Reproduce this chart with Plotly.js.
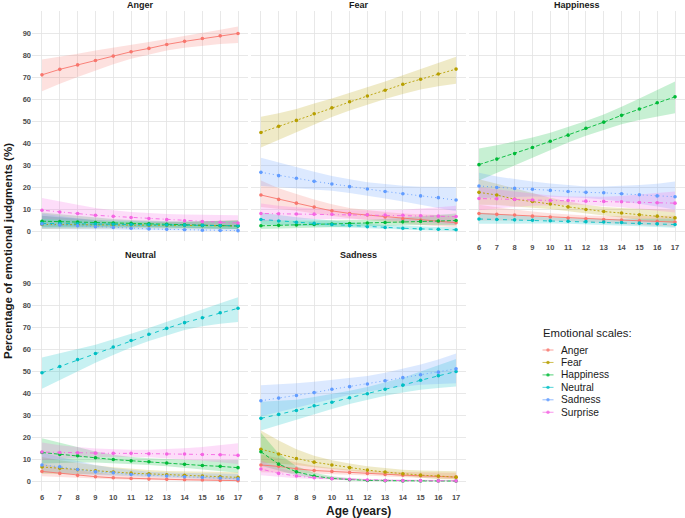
<!DOCTYPE html>
<html>
<head>
<meta charset="utf-8">
<script src="https://cdn.plot.ly/plotly-3.0.1.min.js"></script>
<style>html,body{margin:0;padding:0;background:#fff;}#chart{width:685px;height:518px;}</style>
</head>
<body>
<div id="chart"></div>
<script>
// ---------- data ----------
const ages = [6, 7, 8, 9, 10, 11, 12, 13, 14, 15, 16, 17];
const emotions = ['Anger', 'Fear', 'Happiness', 'Neutral', 'Sadness', 'Surprise'];
const panelNames = ['Anger', 'Fear', 'Happiness', 'Neutral', 'Sadness'];
const yTicks = [0, 10, 20, 30, 40, 50, 60, 70, 80, 90];
const legendTitle = 'Emotional scales:';
const xTitle = 'Age (years)';
const yTitle = 'Percentage of emotional judgments (%)';

// Panel "Anger"
const meanAnger = {
  Anger:     [71, 73.5, 75.5, 77.5, 79.5, 81.5, 83, 84.8, 86.2, 87.5, 88.7, 89.8],
  Fear:      [3, 3, 3, 2.9, 2.8, 2.8, 2.7, 2.6, 2.6, 2.5, 2.5, 2.4],
  Happiness: [4.5, 4.3, 4.1, 3.9, 3.7, 3.5, 3.3, 3.1, 2.9, 2.7, 2.5, 2.3],
  Neutral:   [3.5, 3.4, 3.3, 3.2, 3.1, 3, 2.9, 2.8, 2.7, 2.6, 2.5, 2.4],
  Sadness:   [3.2, 2.8, 2.4, 2, 1.6, 1.3, 1, 0.8, 0.6, 0.4, 0.3, 0.2],
  Surprise:  [9.5, 8.7, 8, 7.2, 6.7, 6.2, 5.7, 5.2, 4.7, 4.3, 4, 3.7]
};
const loAnger = {
  Anger:     [63.5, 67, 70, 73, 75.8, 78.3, 80.3, 82, 83.3, 84.3, 85, 85.5],
  Fear:      [1, 1.1, 1.2, 1.2, 1.3, 1.3, 1.3, 1.2, 1.1, 1, 0.9, 0.8],
  Happiness: [2, 2.1, 2.1, 2.1, 2.1, 2, 1.9, 1.7, 1.5, 1.3, 1.1, 0.9],
  Neutral:   [1.5, 1.6, 1.7, 1.8, 1.8, 1.8, 1.8, 1.7, 1.6, 1.4, 1.2, 1],
  Sadness:   [1, 1, 0.9, 0.8, 0.7, 0.5, 0.4, 0.3, 0.2, 0.1, 0.1, 0],
  Surprise:  [5.5, 5.3, 5.2, 4.9, 4.6, 4.3, 3.9, 3.5, 3, 2.6, 2.2, 1.8]
};
const hiAnger = {
  Anger:     [78, 79.3, 80.6, 82, 83.3, 84.7, 85.9, 87.3, 88.7, 90, 91.5, 93],
  Fear:      [7, 6.2, 5.5, 4.9, 4.4, 4.1, 4, 4, 4.1, 4.3, 4.6, 5],
  Happiness: [8.5, 7.6, 6.8, 6.1, 5.5, 5, 4.7, 4.5, 4.4, 4.4, 4.5, 4.7],
  Neutral:   [7, 6.3, 5.7, 5.2, 4.8, 4.5, 4.3, 4.2, 4.2, 4.3, 4.5, 4.8],
  Sadness:   [8, 6.8, 5.7, 4.7, 3.8, 3.1, 2.6, 2.2, 1.9, 1.7, 1.6, 1.5],
  Surprise:  [15, 13.5, 12, 10.5, 9.5, 8.7, 8.2, 7.8, 7.5, 7.3, 7.2, 7.2]
};

// Panel "Fear"
const meanFear = {
  Anger:     [16.4, 14.4, 12.7, 10.9, 9.2, 8, 7.3, 6.4, 5.6, 5, 4.4, 3.8],
  Fear:      [44.8, 47.6, 50.3, 53.3, 56, 58.8, 61.4, 64, 66.7, 69, 71.4, 73.6],
  Happiness: [2.4, 2.6, 2.8, 3, 3.2, 3.4, 3.7, 3.9, 4.2, 4.4, 4.6, 4.8],
  Neutral:   [5.3, 4.6, 4, 3.5, 3, 2.5, 2, 1.6, 1.3, 1, 0.8, 0.6],
  Sadness:   [26.7, 25.2, 24, 22.6, 21.4, 20.2, 19.1, 18, 17, 16, 15.2, 14.1],
  Surprise:  [8, 7.9, 7.8, 7.7, 7.6, 7.5, 7.4, 7.3, 7.2, 7, 6.8, 6.6]
};
const loFear = {
  Anger:     [11, 10.2, 9.2, 8, 6.8, 5.8, 5, 4.2, 3.5, 2.8, 2.2, 1.7],
  Fear:      [38, 41.5, 45, 48.5, 51.8, 54.8, 57.5, 60, 62.3, 64.3, 65.8, 67],
  Happiness: [1, 1.2, 1.5, 1.8, 2, 2.3, 2.5, 2.7, 2.8, 2.8, 2.8, 2.7],
  Neutral:   [3, 2.7, 2.4, 2.1, 1.8, 1.4, 1.1, 0.8, 0.5, 0.3, 0.2, 0.1],
  Sadness:   [20.5, 20, 19.5, 19, 18.3, 17.3, 16.2, 14.8, 13.5, 12, 10.5, 9],
  Surprise:  [4.5, 4.9, 5.2, 5.4, 5.5, 5.5, 5.3, 5, 4.6, 4.1, 3.6, 3]
};
const hiFear = {
  Anger:     [23, 19.5, 16.8, 14.3, 12.2, 10.5, 9.5, 8.7, 8, 7.6, 7.3, 7],
  Fear:      [52, 53.5, 55.5, 58, 60.2, 62.8, 65.3, 68, 70.8, 73.5, 76.5, 79.2],
  Happiness: [5, 4.9, 4.8, 4.8, 4.8, 4.9, 5.1, 5.5, 6, 6.6, 7.3, 8],
  Neutral:   [8.5, 7.3, 6.3, 5.5, 4.7, 4, 3.3, 2.8, 2.4, 2.1, 1.9, 1.7],
  Sadness:   [33.3, 31, 29, 27, 25, 23.5, 22.2, 21.3, 20.6, 20.2, 20, 20],
  Surprise:  [12.5, 11.5, 10.8, 10.2, 9.8, 9.5, 9.4, 9.5, 9.7, 10.2, 10.8, 11.5]
};

// Panel "Happiness"
const meanHappiness = {
  Anger:     [8, 7.6, 7.3, 6.8, 6.4, 5.9, 5.6, 5.3, 5, 4.7, 4.4, 4.1],
  Fear:      [17.6, 16.4, 14.5, 13.5, 12.3, 11, 9.8, 8.9, 8.2, 7.4, 6.8, 6],
  Happiness: [30.2, 32.7, 35.2, 38, 40.8, 43.6, 46.7, 49.5, 52.6, 55.5, 58.3, 61],
  Neutral:   [5.5, 5.3, 5.1, 4.9, 4.7, 4.5, 4.3, 4.1, 3.9, 3.6, 3.3, 3],
  Sadness:   [20.5, 19.8, 19.4, 19, 18.5, 18, 17.6, 17.4, 17, 16.5, 16, 15.6],
  Surprise:  [14.8, 14.7, 14.4, 14.1, 13.9, 13.9, 13.6, 13.5, 13.3, 13, 12.9, 12.7]
};
const loHappiness = {
  Anger:     [4.8, 4.9, 5, 4.9, 4.8, 4.5, 4.1, 3.7, 3.2, 2.8, 2.4, 2],
  Fear:      [12, 11.8, 11.2, 10.7, 10, 9, 8, 7, 6.2, 5.2, 4.4, 3.6],
  Happiness: [23, 26.5, 30, 33.5, 37, 40.2, 43.3, 46, 48.5, 50.5, 52, 53.5],
  Neutral:   [3.3, 3.4, 3.5, 3.5, 3.4, 3.3, 3.1, 2.8, 2.5, 2.2, 1.9, 1.5],
  Sadness:   [15, 15.3, 15.6, 15.7, 15.6, 15.4, 15, 14.3, 13.5, 12.4, 11.2, 9.8],
  Surprise:  [9.5, 10.3, 11, 11.5, 11.8, 12, 11.8, 11.4, 10.8, 10, 9.3, 8.5]
};
const hiHappiness = {
  Anger:     [12, 10.8, 9.8, 8.9, 8.1, 7.5, 7.1, 6.9, 6.8, 6.8, 6.9, 7],
  Fear:      [23.5, 21.5, 19.5, 17.3, 15.2, 13.5, 12, 11, 10.5, 10, 9.8, 9.6],
  Happiness: [37.5, 39, 40.6, 42.5, 44.7, 47.2, 50, 53, 56.5, 60.3, 64, 68],
  Neutral:   [8.5, 7.8, 7.2, 6.6, 6.2, 5.8, 5.6, 5.5, 5.5, 5.5, 5.6, 5.7],
  Sadness:   [26.5, 24.8, 23.5, 22.5, 21.6, 20.8, 20.3, 20.3, 20.6, 21, 21.5, 22.5],
  Surprise:  [20, 19, 18, 17, 16.2, 15.7, 15.5, 15.6, 16, 16.5, 17.3, 18]
};

// Panel "Neutral"
const meanNeutral = {
  Anger:     [4.4, 3.5, 2.6, 2, 1.5, 1.2, 0.9, 0.8, 0.6, 0.5, 0.3, 0.2],
  Fear:      [6.4, 5.8, 5.2, 4.7, 4.1, 3.6, 3.3, 2.9, 2.6, 2.3, 2, 1.7],
  Happiness: [13, 12.1, 11.5, 10.6, 9.8, 9.2, 8.8, 8.2, 7.6, 7.1, 6.7, 6.1],
  Neutral:   [49.2, 52.1, 55.2, 58, 60.9, 63.9, 66.7, 69.4, 72, 74.2, 76.5, 78.5],
  Sadness:   [7.3, 6.5, 5.3, 4.2, 3.8, 3, 2.7, 2.3, 2, 1.7, 1.4, 1],
  Surprise:  [13.2, 13, 12.9, 12.7, 12.6, 12.6, 12.4, 12.3, 12.3, 12.1, 12, 11.7]
};
const loNeutral = {
  Anger:     [2.2, 1.8, 1.4, 1.1, 0.8, 0.6, 0.4, 0.3, 0.2, 0.1, 0.1, 0],
  Fear:      [3.3, 3.3, 3.2, 3.1, 2.9, 2.6, 2.3, 2, 1.7, 1.4, 1.1, 0.8],
  Happiness: [8, 8.3, 8.5, 8.4, 8.1, 7.7, 7.3, 6.7, 6, 5.2, 4.5, 3.8],
  Neutral:   [42, 46, 50, 53.8, 57.3, 60.7, 63.7, 66.3, 68.6, 70.3, 71.5, 72.3],
  Sadness:   [3.8, 3.6, 3.2, 2.8, 2.5, 2.1, 1.8, 1.4, 1.1, 0.8, 0.6, 0.4],
  Surprise:  [9.5, 10.2, 10.7, 11, 11.1, 11, 10.8, 10.4, 9.9, 9.3, 8.6, 7.8]
};
const hiNeutral = {
  Anger:     [8, 6.3, 4.9, 3.8, 3, 2.5, 2.1, 1.9, 1.7, 1.6, 1.5, 1.5],
  Fear:      [11, 9.5, 8.3, 7.2, 6.3, 5.6, 5, 4.6, 4.4, 4.2, 4.1, 4],
  Happiness: [19.5, 17.5, 15.5, 13.5, 12, 11, 10.4, 10, 9.7, 9.5, 9.5, 9.6],
  Neutral:   [56.2, 58, 60, 62, 64.4, 67, 69.6, 72.3, 75, 78, 80.8, 83.5],
  Sadness:   [13, 11, 9, 7.3, 6, 5, 4.3, 3.9, 3.6, 3.4, 3.3, 3.2],
  Surprise:  [17.5, 16.3, 15.5, 14.8, 14.4, 14.2, 14.2, 14.4, 14.9, 15.5, 16.3, 17.2]
};

// Panel "Sadness"
const meanSadness = {
  Anger:     [7.3, 6.7, 5.6, 4.8, 4.4, 3.9, 3.5, 3, 2.7, 2.4, 2.1, 1.8],
  Fear:      [14.5, 12.3, 10.3, 8.6, 7.3, 6.1, 5, 4.1, 3.3, 2.7, 2.3, 1.8],
  Happiness: [13.3, 7.7, 4.2, 2.3, 1.2, 0.6, 0.3, 0.2, 0.1, 0.1, 0.1, 0],
  Neutral:   [28.5, 30.3, 32.1, 34.2, 35.8, 37.9, 39.7, 41.7, 43.6, 45.8, 47.9, 49.8],
  Sadness:   [36.5, 37.7, 38.9, 40.2, 41.7, 42.9, 44.1, 45.6, 47, 48.3, 49.5, 51],
  Surprise:  [5.5, 3.5, 2.3, 1.5, 1.1, 0.8, 0.5, 0.3, 0.2, 0.2, 0.1, 0.1]
};
const loSadness = {
  Anger:     [4, 4, 3.7, 3.4, 3.2, 2.9, 2.5, 2.1, 1.8, 1.4, 1.1, 0.8],
  Fear:      [8.5, 8, 7.3, 6.3, 5.5, 4.6, 3.7, 2.8, 2.1, 1.5, 1, 0.7],
  Happiness: [7, 4.7, 2.7, 1.4, 0.7, 0.3, 0.1, 0, 0, 0, 0, 0],
  Neutral:   [23, 25.5, 28, 30.5, 32.8, 35, 37, 38.8, 40.3, 41.5, 42.3, 43],
  Sadness:   [29.5, 31.5, 33.5, 35.5, 37.5, 39.2, 40.7, 42, 43, 43.8, 44.2, 44.5],
  Surprise:  [2.7, 1.9, 1.3, 0.9, 0.6, 0.4, 0.2, 0.1, 0.1, 0, 0, 0]
};
const hiSadness = {
  Anger:     [12, 10.5, 8.5, 7, 6, 5.3, 4.8, 4.4, 4.1, 3.9, 3.8, 3.8],
  Fear:      [23, 18.5, 14.5, 11.5, 9.5, 8, 6.8, 5.9, 5.2, 4.8, 4.6, 4.5],
  Happiness: [22, 12.5, 6.8, 3.8, 2.2, 1.3, 0.8, 0.6, 0.5, 0.4, 0.4, 0.4],
  Neutral:   [36, 36.5, 37, 38.2, 39.5, 41, 42.8, 44.8, 47, 49.8, 52.5, 55.5],
  Sadness:   [43.6, 44, 44.5, 45.1, 46, 46.8, 47.8, 49.2, 51, 53, 55.3, 58],
  Surprise:  [9.5, 6, 3.9, 2.6, 1.9, 1.4, 1, 0.8, 0.6, 0.5, 0.5, 0.5]
};

// ---------- styling ----------
const colors = {Anger:'#F8766D', Fear:'#B79F00', Happiness:'#00BA38', Neutral:'#00BFC4', Sadness:'#619CFF', Surprise:'#F564E3'};
const dashes = {Anger:'solid', Fear:'2px,2px', Happiness:'4px,2px', Neutral:'4px,4px', Sadness:'1px,3px', Surprise:'1px,3px,4px,3px'};
function rgba(hex, a) {
  const r = parseInt(hex.slice(1,3),16), g = parseInt(hex.slice(3,5),16), b = parseInt(hex.slice(5,7),16);
  return 'rgba(' + r + ',' + g + ',' + b + ',' + a + ')';
}

const W = 685, H = 518;
const colPx = [[32, 248], [251, 466], [469, 685]];
const rowPx = [[11, 241], [261, 491]];
const panelData = [
  [meanAnger, loAnger, hiAnger],
  [meanFear, loFear, hiFear],
  [meanHappiness, loHappiness, hiHappiness],
  [meanNeutral, loNeutral, hiNeutral],
  [meanSadness, loSadness, hiSadness]
];

const traces = [];
const layout = {
  width: W, height: H,
  margin: {l: 0, r: 0, t: 0, b: 0},
  paper_bgcolor: '#ffffff', plot_bgcolor: '#ffffff',
  showlegend: false,
  font: {family: 'Liberation Sans, Arial, sans-serif'},
  annotations: [], shapes: []
};

const tickFont = {family: 'Liberation Sans, Arial, sans-serif', size: 7.5, color: '#4D4D4D', weight: 'bold'};

panelNames.forEach(function (pname, i) {
  const col = i % 3, row = Math.floor(i / 3);
  const xa = i === 0 ? 'x' : 'x' + (i + 1);
  const ya = i === 0 ? 'y' : 'y' + (i + 1);
  const xKey = i === 0 ? 'xaxis' : 'xaxis' + (i + 1);
  const yKey = i === 0 ? 'yaxis' : 'yaxis' + (i + 1);
  const xd = [colPx[col][0] / W, colPx[col][1] / W];
  const yd = [1 - rowPx[row][1] / H, 1 - rowPx[row][0] / H];
  layout[xKey] = {
    domain: xd, anchor: ya, range: [5.44, 17.56],
    tickvals: ages, ticktext: ages.map(String),
    showticklabels: (row === 1 || i === 2), tickfont: tickFont, ticks: '',
    showgrid: true, gridcolor: '#E2E2E2', gridwidth: 0.8,
    zeroline: false, showline: false, fixedrange: true
  };
  layout[yKey] = {
    domain: yd, anchor: xa, range: [-4.5, 100],
    tickvals: yTicks, ticktext: yTicks.map(String),
    showticklabels: col === 0, tickfont: tickFont, ticks: '',
    showgrid: true, gridcolor: '#E2E2E2', gridwidth: 0.8,
    zeroline: false, showline: false, fixedrange: true
  };
  const [m, lo, hi] = panelData[i];
  // ribbons first
  emotions.forEach(function (e) {
    traces.push({
      type: 'scatter', mode: 'lines', xaxis: xa, yaxis: ya,
      x: ages.concat(ages.slice().reverse()),
      y: lo[e].concat(hi[e].slice().reverse()),
      fill: 'toself', fillcolor: rgba(colors[e], 0.22),
      line: {width: 0, color: 'rgba(0,0,0,0)'}, hoverinfo: 'skip'
    });
  });
  emotions.forEach(function (e) {
    traces.push({
      type: 'scatter', mode: 'lines+markers', xaxis: xa, yaxis: ya,
      x: ages, y: m[e], name: e,
      line: {color: colors[e], width: 0.9, dash: dashes[e]},
      marker: {color: colors[e], size: 3.6}
    });
  });
  layout.annotations.push({
    text: '<b>' + pname + '</b>', xref: 'paper', yref: 'paper',
    x: (xd[0] + xd[1]) / 2, y: 1 - (rowPx[row][0] - 6.5) / H,
    xanchor: 'center', yanchor: 'middle', showarrow: false,
    font: {size: 9, color: '#1A1A1A'}
  });
});

// axis titles
layout.annotations.push({
  text: '<b>' + xTitle + '</b>', xref: 'paper', yref: 'paper',
  x: (32 + 685) / 2 / W, y: 1 - 510.5 / H, xanchor: 'center', yanchor: 'middle',
  showarrow: false, font: {size: 12, color: '#1A1A1A'}
});
layout.annotations.push({
  text: '<b>' + yTitle + '</b>', xref: 'paper', yref: 'paper',
  x: 8 / W, y: 1 - 251 / H, xanchor: 'center', yanchor: 'middle', textangle: -90,
  showarrow: false, font: {size: 11.5, color: '#1A1A1A'}
});

// legend (drawn manually)
layout.annotations.push({
  text: legendTitle, xref: 'paper', yref: 'paper',
  x: 541 / W, y: 1 - 332.5 / H, xanchor: 'left', yanchor: 'middle',
  showarrow: false, font: {size: 11.3, color: '#1A1A1A'}
});
emotions.forEach(function (e, k) {
  const yc = 350 + k * 12.45;
  layout.shapes.push({
    type: 'line', xref: 'paper', yref: 'paper',
    x0: 542.5 / W, x1: 553.5 / W, y0: 1 - yc / H, y1: 1 - yc / H,
    line: {color: rgba(colors[e], 0.75), width: 0.9}
  });
  layout.shapes.push({
    type: 'circle', xref: 'paper', yref: 'paper',
    x0: 546.3 / W, x1: 549.7 / W, y0: 1 - (yc + 1.7) / H, y1: 1 - (yc - 1.7) / H,
    fillcolor: rgba(colors[e], 0.8), line: {width: 0}
  });
  layout.annotations.push({
    text: e, xref: 'paper', yref: 'paper',
    x: 559 / W, y: 1 - yc / H, xanchor: 'left', yanchor: 'middle',
    showarrow: false, font: {size: 10.2, color: '#1A1A1A'}
  });
});

Plotly.newPlot('chart', traces, layout, {displayModeBar: false, staticPlot: true});
</script>
</body>
</html>
